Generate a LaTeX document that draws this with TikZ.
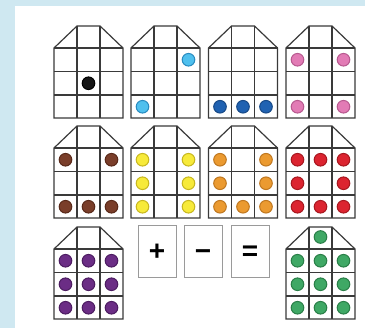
\documentclass[tikz,border=0pt]{standalone}
\usepackage{fontspec}
\setmainfont{Liberation Sans}
\definecolor{bgblue}{HTML}{CFE8F1}
\definecolor{gridc}{HTML}{3A3A3A}
\definecolor{boxc}{HTML}{9A9A9A}
\definecolor{kF}{HTML}{151515}\definecolor{kD}{HTML}{000000}
\definecolor{lbF}{HTML}{4FC0EE}\definecolor{lbD}{HTML}{2A8CC0}
\definecolor{dbF}{HTML}{2062B2}\definecolor{dbD}{HTML}{184A88}
\definecolor{pkF}{HTML}{E27BB5}\definecolor{pkD}{HTML}{B85A90}
\definecolor{brF}{HTML}{7A3E2A}\definecolor{brD}{HTML}{5A2A1A}
\definecolor{yeF}{HTML}{F7EA3A}\definecolor{yeD}{HTML}{C8B820}
\definecolor{orF}{HTML}{EB9A30}\definecolor{orD}{HTML}{C07820}
\definecolor{rdF}{HTML}{DC2430}\definecolor{rdD}{HTML}{A81820}
\definecolor{puF}{HTML}{6B2D85}\definecolor{puD}{HTML}{4D1D62}
\definecolor{grF}{HTML}{3FA865}\definecolor{grD}{HTML}{2A7F48}
\tikzset{
  gridline/.style={draw=gridc, line width=1.2pt, line join=miter},
  signbox/.style={draw=boxc, line width=1pt, minimum width=38pt, minimum height=52pt, inner sep=0pt, font=\fontsize{28}{28}\selectfont\bfseries},
}
\newcommand\myhouse[4]{%
\begin{scope}[shift={(#1,#2)}]
\draw[gridline] (0,22) -- (23,0) -- (46,0) -- (69,22) -- (69,92) -- (0,92) -- cycle;
\draw[gridline] (0,22) -- (69,22) (0,45.5) -- (69,45.5) (0,69) -- (69,69) (23,0) -- (23,92) (46,0) -- (46,92);
\foreach \c/\r in {#4} {
  \pgfmathsetmacro\dy{\r==0 ? 10 : 22+23.5*\r-11.75}
  \filldraw[fill=#3F, draw=#3D, line width=1pt] (11.5+23*\c,\dy) circle (6.3);
}
\end{scope}}
\begin{document}
\begin{tikzpicture}[x=1pt,y=-1pt]
\fill[bgblue] (0,0) rectangle (365,328);
\fill[white] (15,6) rectangle (365,328);
\useasboundingbox (0,0) rectangle (365,328);
% row 1
\myhouse{54}{26}{k}{1/2}
\myhouse{131}{26}{lb}{2/1,0/3}
\myhouse{208.5}{26}{db}{0/3,1/3,2/3}
\myhouse{286}{26}{pk}{0/1,2/1,0/3,2/3}
% row 2
\myhouse{54}{126}{br}{0/1,2/1,0/3,1/3,2/3}
\myhouse{131}{126}{ye}{0/1,2/1,0/2,2/2,0/3,2/3}
\myhouse{208.5}{126}{or}{0/1,2/1,0/2,2/2,0/3,1/3,2/3}
\myhouse{286}{126}{rd}{0/1,1/1,2/1,0/2,2/2,0/3,1/3,2/3}
% row 3
\myhouse{54}{227}{pu}{0/1,1/1,2/1,0/2,1/2,2/2,0/3,1/3,2/3}
\myhouse{286}{227}{gr}{1/0,0/1,1/1,2/1,0/2,1/2,2/2,0/3,1/3,2/3}
% signs
\node[signbox] (plus) at (157,252) {\vphantom{+}+};
\node[signbox] (minus) at (203,252) {\vphantom{+}−};
\node[signbox] (equals) at (250,252) {\vphantom{+}=};
\end{tikzpicture}
\end{document}
